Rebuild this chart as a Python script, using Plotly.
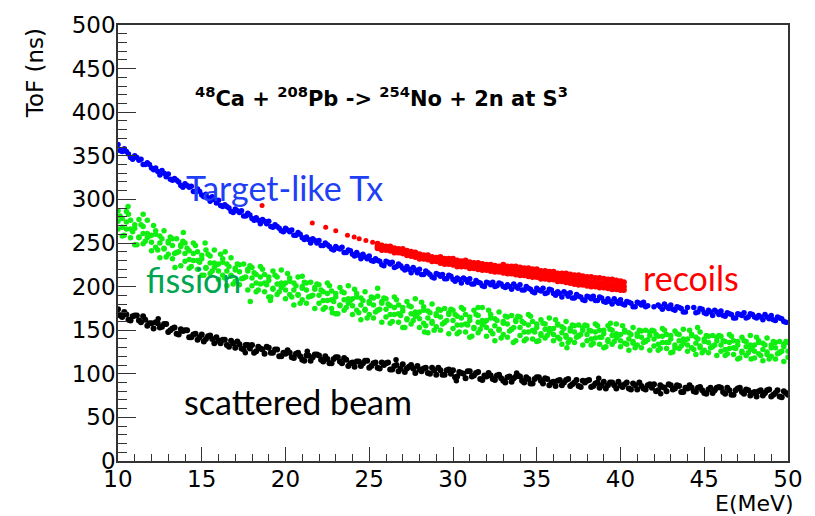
import plotly.graph_objects as go

# ---------------- data ----------------
E_grid = [
    10.0, 10.25, 10.5, 10.75, 11.0, 11.25, 11.5, 11.75, 12.0, 12.25,
    12.5, 12.75, 13.0, 13.25, 13.5, 13.75, 14.0, 14.25, 14.5, 14.75,
    15.0, 15.25, 15.5, 15.75, 16.0, 16.25, 16.5, 16.75, 17.0, 17.25,
    17.5, 17.75, 18.0, 18.25, 18.5, 18.75, 19.0, 19.25, 19.5, 19.75,
    20.0, 20.25, 20.5, 20.75, 21.0, 21.25, 21.5, 21.75, 22.0, 22.25,
    22.5, 22.75, 23.0, 23.25, 23.5, 23.75, 24.0, 24.25, 24.5, 24.75,
    25.0, 25.25, 25.5, 25.75, 26.0, 26.25, 26.5, 26.75, 27.0, 27.25,
    27.5, 27.75, 28.0, 28.25, 28.5, 28.75, 29.0, 29.25, 29.5, 29.75,
    30.0, 30.25, 30.5, 30.75, 31.0, 31.25, 31.5, 31.75, 32.0, 32.25,
    32.5, 32.75, 33.0, 33.25, 33.5, 33.75, 34.0, 34.25, 34.5, 34.75,
    35.0, 35.25, 35.5, 35.75, 36.0, 36.25, 36.5, 36.75, 37.0, 37.25,
    37.5, 37.75, 38.0, 38.25, 38.5, 38.75, 39.0, 39.25, 39.5, 39.75,
    40.0, 40.25, 40.5, 40.75, 41.0, 41.25, 41.5, 41.75, 42.0, 42.25,
    42.5, 42.75, 43.0, 43.25, 43.5, 43.75, 44.0, 44.25, 44.5, 44.75,
    45.0, 45.25, 45.5, 45.75, 46.0, 46.25, 46.5, 46.75, 47.0, 47.25,
    47.5, 47.75, 48.0, 48.25, 48.5, 48.75, 49.0, 49.25, 49.5, 49.75,
    50.0,
]
E_half = [
    10.125, 10.375, 10.625, 10.875, 11.125, 11.375, 11.625, 11.875, 12.125, 12.375,
    12.625, 12.875, 13.125, 13.375, 13.625, 13.875, 14.125, 14.375, 14.625, 14.875,
    15.125, 15.375, 15.625, 15.875, 16.125, 16.375, 16.625, 16.875, 17.125, 17.375,
    17.625, 17.875, 18.125, 18.375, 18.625, 18.875, 19.125, 19.375, 19.625, 19.875,
    20.125, 20.375, 20.625, 20.875, 21.125, 21.375, 21.625, 21.875, 22.125, 22.375,
    22.625, 22.875, 23.125, 23.375, 23.625, 23.875, 24.125, 24.375, 24.625, 24.875,
    25.125, 25.375, 25.625, 25.875, 26.125, 26.375, 26.625, 26.875, 27.125, 27.375,
    27.625, 27.875, 28.125, 28.375, 28.625, 28.875, 29.125, 29.375, 29.625, 29.875,
    30.125, 30.375, 30.625, 30.875, 31.125, 31.375, 31.625, 31.875, 32.125, 32.375,
    32.625, 32.875, 33.125, 33.375, 33.625, 33.875, 34.125, 34.375, 34.625, 34.875,
    35.125, 35.375, 35.625, 35.875, 36.125, 36.375, 36.625, 36.875, 37.125, 37.375,
    37.625, 37.875, 38.125, 38.375, 38.625, 38.875, 39.125, 39.375, 39.625, 39.875,
    40.125, 40.375, 40.625, 40.875, 41.125, 41.375, 41.625, 41.875, 42.125, 42.375,
    42.625, 42.875, 43.125, 43.375, 43.625, 43.875, 44.125, 44.375, 44.625, 44.875,
    45.125, 45.375, 45.625, 45.875, 46.125, 46.375, 46.625, 46.875, 47.125, 47.375,
    47.625, 47.875, 48.125, 48.375, 48.625, 48.875, 49.125, 49.375, 49.625, 49.875,
]

# scattered beam (black), two rows of the band
beam_tof = [
    174, 165, 168, 161, 167, 161, 166, 155, 158, 159,
    153, 157, 148, 152, 146, 151, 150, 142, 145, 139,
    145, 140, 144, 135, 138, 139, 133, 138, 130, 134,
    128, 133, 133, 126, 129, 123, 130, 124, 128, 120,
    123, 124, 118, 124, 116, 121, 115, 122, 121, 114,
    117, 112, 119, 114, 118, 109, 113, 114, 109, 115,
    107, 112, 107, 113, 112, 105, 109, 103, 111, 106,
    110, 101, 105, 106, 101, 107, 99, 104, 99, 105,
    104, 97, 101, 95, 103, 98, 102, 93, 97, 98,
    93, 99, 92, 96, 91, 97, 97, 90, 94, 89,
    96, 92, 95, 87, 91, 92, 87, 93, 86, 90,
    86, 92, 92, 85, 89, 84, 91, 87, 90, 83,
    87, 88, 83, 89, 82, 86, 82, 88, 88, 81,
    85, 80, 87, 83, 86, 79, 83, 84, 79, 85,
    78, 82, 78, 84, 84, 77, 81, 76, 83, 79,
    82, 75, 79, 80, 75, 81, 74, 78, 74, 80,
    76,
]
beam_tof_2 = [
    167, 171, 162, 166, 167, 159, 162, 158, 152, 158,
    154, 157, 150, 153, 145, 149, 150, 142, 146, 142,
    137, 143, 140, 142, 135, 139, 131, 135, 137, 129,
    133, 129, 124, 131, 128, 131, 124, 128, 120, 124,
    127, 119, 123, 120, 115, 121, 119, 122, 116, 120,
    112, 117, 119, 112, 116, 112, 108, 114, 112, 115,
    109, 113, 106, 110, 113, 105, 110, 106, 102, 108,
    106, 109, 103, 107, 100, 104, 107, 99, 104, 100,
    96, 102, 100, 103, 97, 101, 94, 98, 101, 94,
    98, 95, 90, 97, 95, 98, 92, 96, 89, 94,
    96, 89, 94, 90, 86, 93, 90, 94, 88, 93,
    85, 90, 93, 86, 90, 87, 83, 90, 87, 91,
    85, 90, 82, 87, 90, 83, 87, 84, 80, 87,
    84, 88, 82, 87, 79, 84, 87, 80, 84, 81,
    77, 84, 81, 85, 79, 84, 76, 81, 84, 77,
    81, 78, 74, 81, 78, 82, 76, 81, 73, 78,
]
beam_extra_E = [17.6, 26.6, 33.8, 42.4, 30.2, 38.7, 12.4, 21.3]
beam_extra_tof = [124, 116, 101, 77, 92, 95, 163, 126]

# fission fragments (green), four rows of the cloud
fission_tof_a = [
    287, 278, 286, 276, 267, 277, 269, 276, 259, 264,
    258, 264, 250, 255, 255, 246, 250, 241, 250, 240,
    232, 242, 235, 242, 226, 232, 226, 233, 219, 225,
    226, 218, 222, 214, 223, 214, 207, 218, 211, 219,
    204, 210, 204, 211, 198, 204, 205, 197, 202, 194,
    204, 195, 188, 199, 193, 201, 186, 192, 187, 194,
    181, 187, 189, 181, 186, 178, 188, 179, 172, 183,
    177, 186, 171, 177, 172, 180, 167, 173, 175, 168,
    173, 166, 176, 168, 161, 173, 167, 176, 161, 168,
    163, 171, 158, 165, 167, 160, 165, 158, 168, 160,
    153, 162, 157, 164, 152, 157, 154, 160, 149, 155,
    156, 150, 155, 149, 157, 150, 146, 155, 150, 157,
    145, 150, 147, 153, 143, 149, 150, 144, 149, 143,
    152, 145, 140, 149, 145, 151, 140, 145, 142, 148,
    137, 143, 144, 138, 143, 137, 145, 138, 133, 142,
    137, 144, 133, 138, 135, 141, 130, 136, 137, 131,
    136,
]
fission_tof_b = [
    266, 258, 266, 256, 248, 257, 249, 256, 241, 245,
    233, 244, 237, 232, 239, 224, 229, 221, 230, 220,
    213, 222, 215, 222, 208, 213, 201, 213, 206, 202,
    210, 196, 201, 194, 203, 194, 188, 198, 191, 199,
    186, 191, 179, 191, 185, 181, 189, 175, 181, 174,
    184, 175, 169, 179, 173, 181, 168, 173, 162, 174,
    168, 164, 173, 159, 165, 158, 168, 159, 153, 163,
    157, 166, 153, 158, 147, 160, 154, 150, 159, 146,
    152, 146, 156, 148, 142, 153, 147, 156, 143, 149,
    138, 151, 145, 142, 151, 138, 144, 138, 148, 140,
    137, 146, 141, 148, 138, 142, 134, 144, 139, 136,
    144, 133, 138, 133, 141, 134, 130, 139, 134, 141,
    131, 135, 127, 137, 133, 130, 138, 127, 132, 127,
    136, 129, 124, 133, 129, 135, 126, 130, 122, 132,
    127, 124, 132, 121, 126, 121, 129, 122, 117, 126,
    121, 128, 118, 123, 115, 125, 120, 117, 125, 114,
    119,
]
fission_tof_c = [
    275, 268, 274, 266, 271, 256, 261, 261, 251, 260,
    250, 243, 252, 247, 239, 248, 238, 231, 238, 230,
    236, 221, 227, 227, 218, 228, 218, 212, 221, 217,
    210, 220, 210, 204, 211, 204, 211, 197, 203, 204,
    196, 206, 196, 190, 200, 196, 189, 199, 190, 184,
    192, 185, 192, 178, 185, 186, 178, 188, 179, 173,
    183, 179, 173, 183, 174, 168, 176, 169, 176, 162,
    169, 171, 163, 173, 164, 158, 169, 165, 159, 170,
    161, 156, 164, 157, 165, 152, 159, 161, 153, 164,
    155, 150, 160, 157, 151, 162, 153, 148, 156, 150,
    157, 144, 151, 152, 145, 156, 147, 142, 152, 148,
    143, 153, 145, 140, 148, 142, 150, 137, 144, 146,
    138, 148, 140, 135, 146, 142, 137, 148, 140, 134,
    143, 136, 144, 130, 138, 140, 133, 144, 135, 130,
    140, 136, 131, 142, 133, 128, 136, 130, 137, 124,
    131, 133, 126, 136, 128, 122, 133, 130, 124, 134,
    126,
]
fission_tof_d = [
    281, 259, 283, 263, 248, 271, 252, 258, 270, 242,
    255, 234, 257, 238, 240, 252, 244, 223, 247, 228,
    213, 237, 218, 225, 237, 210, 223, 203, 226, 209,
    211, 224, 216, 196, 220, 202, 188, 213, 194, 202,
    215, 188, 201, 181, 205, 188, 190, 203, 196, 176,
    201, 183, 169, 194, 176, 184, 197, 170, 184, 164,
    188, 171, 174, 187, 180, 160, 185, 167, 153, 178,
    161, 169, 182, 155, 170, 150, 174, 157, 161, 174,
    168, 148, 174, 156, 143, 168, 151, 159, 173, 146,
    161, 141, 166, 149, 153, 166, 160, 140, 166, 148,
    138, 158, 144, 151, 162, 140, 152, 136, 156, 142,
    145, 156, 150, 135, 155, 142, 131, 151, 137, 144,
    155, 134, 145, 130, 150, 136, 139, 150, 145, 129,
    150, 136, 125, 146, 132, 139, 150, 128, 140, 124,
    144, 130, 133, 144, 138, 123, 143, 129, 118, 138,
    124, 131, 142, 121, 133, 117, 137, 123, 126, 137,
]
fission_extra_E = [13.4, 13.9, 15.2, 17.9, 19.1, 11.5, 10.6, 22.8, 25.5,
                   28.3, 31.5, 36.8, 39.4, 44.6, 47.8, 33.6, 21.0, 16.4]
fission_extra_tof = [222, 262, 250, 183, 184, 283, 292, 170, 198,
                     148, 176, 130, 158, 153, 117, 136, 212, 240]

# target-like transfer (blue), two rows; None = gaps in the band
target_tof = [
    363, 355, 355, 348, 350, 345, 340, 342, 336, 336,
    328, 330, 329, 322, 322, 316, 318, 314, 309, 312,
    305, 306, 298, 300, 299, 292, 292, 286, 289, 285,
    281, 284, 278, 279, 272, 275, 275, 268, 269, 264,
    267, 263, 259, 262, 256, 257, 250, 253, 253, 247,
    248, 243, 246, 243, 239, 242, 237, 239, 232, 234,
    235, 229, 230, 225, 229, 226, 222, 226, 221, 223,
    216, 219, 220, 214, 216, 211, 215, 212, 209, 213,
    208, 210, 204, 208, 209, 203, 205, 201, 205, 202,
    200, 204, 200, 202, 197, 200, 202, 196, 198, 194,
    198, 195, 192, 197, 192, 194, 188, 192, 193, 187,
    189, 185, 189, 186, 184, 188, 183, 186, 180, 183,
    185, 179, 182, 177, 182, 179, 177, None, 177, 179,
    174, 177, 179, 173, 176, 171, 176, None, 170, 175,
    170, 173, 167, 171, 172, 166, 169, 164, 169, 167,
    164, 169, 165, 167, 162, 165, 167, 161, 164, 160,
    None,
]
target_tof_2 = [
    356, 358, 352, 346, 348, 346, 340, 340, 334, 332,
    333, 326, 323, 324, 320, 314, 316, 315, 309, 309,
    303, 302, 303, 296, 293, 294, 290, 285, 287, 287,
    281, 282, 276, 276, 277, 272, 269, 271, 267, 263,
    265, 265, 259, 260, 254, 254, 255, 250, 247, 250,
    246, 242, 244, 245, 239, 241, 235, 236, 237, 232,
    230, 232, 229, 224, 228, 228, 223, 224, 219, 220,
    222, 216, 214, 218, 214, 210, 214, 214, 209, 212,
    206, 208, 210, 205, 203, 207, 204, 200, 204, 205,
    201, 203, 199, 200, 203, 198, 196, 200, 197, 193,
    196, 198, 193, 196, 190, 192, 194, 189, 187, 191,
    188, 184, 188, 189, 184, 187, 182, 183, 186, 181,
    180, 183, 181, 177, 181, 182, 178, None, None, 177,
    180, 175, 174, 177, 175, 171, None, 176, 171, 174,
    169, 171, 173, 168, 167, 170, 168, 164, 168, 170,
    165, 168, 164, 165, 168, 163, 162, 165, 163, 159,
]

# recoils (red): dense band plus a few early points
recoil_E = [
    25.5, 25.75, 26.0, 26.25, 26.5, 26.75, 27.0, 27.25, 27.5, 27.75,
    28.0, 28.25, 28.5, 28.75, 29.0, 29.25, 29.5, 29.75, 30.0, 30.25,
    30.5, 30.75, 31.0, 31.25, 31.5, 31.75, 32.0, 32.25, 32.5, 32.75,
    33.0, 33.25, 33.5, 33.75, 34.0, 34.25, 34.5, 34.75, 35.0, 35.25,
    35.5, 35.75, 36.0, 36.25, 36.5, 36.75, 37.0, 37.25, 37.5, 37.75,
    38.0, 38.25, 38.5, 38.75, 39.0, 39.25, 39.5, 39.75, 40.0, 40.2,
]
recoil_tof_a = [
    249, 247, 246, 246, 244, 243, 243, 241, 240, 239,
    237, 236, 236, 234, 233, 234, 232, 232, 232, 230,
    229, 230, 228, 227, 227, 226, 225, 225, 224, 223,
    225, 223, 223, 223, 222, 221, 221, 220, 220, 218,
    218, 217, 217, 215, 215, 215, 214, 213, 213, 212,
    211, 211, 210, 210, 209, 208, 208, 207, 206, 205,
]
recoil_tof_b = [
    244, 242, 242, 241, 239, 239, 238, 236, 235, 234,
    232, 232, 231, 229, 229, 227, 226, 226, 225, 223,
    223, 223, 221, 221, 220, 219, 219, 218, 217, 217,
    216, 215, 215, 214, 213, 213, 212, 211, 211, 209,
    209, 208, 208, 206, 206, 205, 204, 203, 202, 202,
    201, 200, 200, 199, 199, 198, 197, 197, 196, 196,
]
recoil_tof_m = [
    246, 245, 245, 243, 242, 242, 240, 239, 238, 236,
    235, 235, 233, 232, 232, 230, 229, 230, 228, 227,
    227, 226, 225, 225, 223, 223, 222, 221, 221, 221,
    220, 219, 219, 219, 218, 217, 216, 216, 215, 214,
    213, 213, 212, 211, 210, 210, 209, 208, 207, 207,
    206, 205, 205, 204, 204, 203, 202, 202, 201, 200,
]
recoil_sparse_E = [18.6, 21.6, 22.4, 23.0, 23.7, 24.1, 24.4, 24.8, 25.2]
recoil_sparse_tof = [293, 273, 268, 264, 259, 257, 255, 253, 251]

# axis ticks
x_ticks = [10, 15, 20, 25, 30, 35, 40, 45, 50]
y_ticks = [0, 50, 100, 150, 200, 250, 300, 350, 400, 450, 500]

# ---------------- figure ----------------
fig = go.Figure()


def add_points(x, y, color, size):
    fig.add_trace(go.Scatter(
        x=x, y=y, mode="markers",
        marker=dict(color=color, size=size, line=dict(width=0)),
        hoverinfo="skip", showlegend=False))


GREEN = "#11ee11"
add_points(E_grid, fission_tof_a, GREEN, 5.5)
add_points(E_grid, fission_tof_b, GREEN, 5.5)
add_points(E_grid, fission_tof_c, GREEN, 5.5)
add_points(E_half, fission_tof_d, GREEN, 5.5)
add_points(fission_extra_E, fission_extra_tof, GREEN, 5.5)
add_points(E_grid, beam_tof, "black", 6)
add_points(E_half, beam_tof_2, "black", 6)
add_points(beam_extra_E, beam_extra_tof, "black", 5.5)
add_points(E_grid, target_tof, "#0000ff", 5.5)
add_points(E_half, target_tof_2, "#0000ff", 5.5)
add_points(recoil_E, recoil_tof_a, "#ff0000", 6)
add_points(recoil_E, recoil_tof_b, "#ff0000", 6)
add_points(recoil_E, recoil_tof_m, "#ff0000", 6)
add_points(recoil_sparse_E, recoil_sparse_tof, "#ff0000", 5)

AX = "#333333"
TICKFONT = dict(family="DejaVu Sans", size=23, color="black")

fig.update_layout(
    width=815, height=516,
    margin=dict(l=118, r=17, t=20, b=55),
    paper_bgcolor="white", plot_bgcolor="white",
    xaxis=dict(
        range=[10, 50], tickmode="array", tickvals=x_ticks,
        ticks="inside", ticklen=14, tickwidth=1.2, tickcolor=AX,
        minor=dict(ticks="inside", ticklen=7, dtick=1, tickwidth=1.2,
                   tickcolor=AX, showgrid=False),
        showline=True, linecolor=AX, linewidth=1.5, mirror=True,
        showgrid=False, zeroline=False, tickfont=TICKFONT,
        ticklabelstandoff=-3,
    ),
    yaxis=dict(
        range=[0, 500], tickmode="array", tickvals=y_ticks,
        ticks="inside", ticklen=18, tickwidth=1.2, tickcolor=AX,
        minor=dict(ticks="inside", ticklen=9, dtick=10, tickwidth=1.2,
                   tickcolor=AX, showgrid=False),
        showline=True, linecolor=AX, linewidth=1.5, mirror=True,
        showgrid=False, zeroline=False, tickfont=TICKFONT,
        ticklabelstandoff=-4,
    ),
)

LABEL_FONT = "Lato, Open Sans, sans-serif"
annotations = [
    dict(x=25.76, y=417, xref="x", yref="y",
         text="<b><sup>48</sup>Ca + <sup>208</sup>Pb -&gt; <sup>254</sup>No + 2n at S<sup>3</sup></b>",
         font=dict(family="DejaVu Sans", size=21, color="black"),
         xanchor="center", yanchor="middle", showarrow=False),
    dict(x=13.95, y=314, xref="x", yref="y", text="Target-like Tx",
         font=dict(family=LABEL_FONT, size=34, color="#1f3ff5"),
         xanchor="left", yanchor="middle", showarrow=False),
    dict(x=11.55, y=208, xref="x", yref="y", text="fission",
         font=dict(family=LABEL_FONT, size=34, color="#00a550"),
         xanchor="left", yanchor="middle", showarrow=False),
    dict(x=41.2, y=211, xref="x", yref="y", text="recoils",
         font=dict(family=LABEL_FONT, size=34, color="#ff0000"),
         xanchor="left", yanchor="middle", showarrow=False),
    dict(x=13.8, y=68, xref="x", yref="y", text="scattered beam",
         font=dict(family=LABEL_FONT, size=34, color="black"),
         xanchor="left", yanchor="middle", showarrow=False),
    dict(x=-0.1235, y=0.89, xref="paper", yref="paper", text="ToF (ns)",
         textangle=-90, font=dict(family="DejaVu Sans", size=23, color="black"),
         xanchor="center", yanchor="middle", showarrow=False),
    dict(x=1.012, y=-0.097, xref="paper", yref="paper", text="E(MeV)",
         font=dict(family="DejaVu Sans", size=22, color="black"),
         xanchor="right", yanchor="middle", showarrow=False),
]
fig.update_layout(annotations=annotations)

fig.write_html("out.html")
